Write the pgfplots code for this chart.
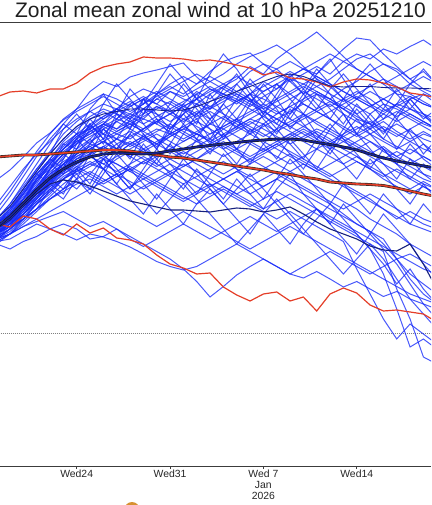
\documentclass[border=0pt]{standalone}
\usepackage{pgfplots}
\pgfplotsset{compat=1.18}
\usepackage{fontspec}
\setmainfont{Liberation Sans}
\definecolor{ensblue}{RGB}{22,42,250}
\definecolor{clred}{RGB}{228,62,40}
\definecolor{navy}{RGB}{22,32,125}
\definecolor{axgray}{RGB}{60,60,60}
\definecolor{orng}{RGB}{215,145,50}
\newcommand{\mem}[1]{\addplot[ens] coordinates {#1};}
\begin{document}
\begin{tikzpicture}
\begin{axis}[
 scale only axis, width=431pt, height=443.3pt,
 xmin=0.25, xmax=32.57, ymin=-26.4, ymax=62.26,
 axis x line=box, axis y line=none,
 ytick=\empty,
 xtick={6,13,20,27},
 xticklabels={Wed24,Wed31,{Wed 7\\Jan\\2026},Wed14},
 xtick pos=bottom, tick align=outside, major tick length=3pt,
 xticklabel style={align=center, font=\fontsize{10.4}{10.8}\selectfont, text=black!85, inner sep=1pt},
 axis line style={draw=axgray, line width=0.9pt},
 every tick/.style={axgray, line width=0.7pt},
 ens/.style={ensblue, opacity=0.78, line width=1.0pt},
 no markers, clip=true,
]
\addplot[gray, densely dotted, line width=1pt] coordinates {(0,0)(34,0)};
% ensemble members (day index 0 = 18 Dec)
\mem{(0,20.5)(1,23)(2,27)(3,31)(4,35)(5,38.5)(6,41)(7,43)(8,44.5)(9,43)(10,45.5)(11,47)(12,46)(13,48.5)(14,47.5)(15,49)(16,50.5)(17,52)(18,54)(19,55.5)(20,56.5)(21,57.8)(22,56)(23,53.5)(24,51)(25,49.5)(26,47)(27,45.5)(28,44)(29,46)(30,45)(31,43.5)(32,42)(33,41)}
\mem{(0,22)(1,24.5)(2,28.5)(3,32)(4,34.5)(5,37)(6,39.5)(7,41.5)(8,40)(9,42.5)(10,44)(11,43)(12,45.5)(13,44.5)(14,46)(15,48.5)(16,47)(17,49.5)(18,51)(19,53.5)(20,52)(21,55)(22,57)(23,58.5)(24,60.4)(25,58)(26,55.5)(27,53)(28,51.5)(29,50)(30,48)(31,47.5)(32,46)(33,45)}
\mem{(0,21)(1,23)(2,26)(3,29.5)(4,33)(5,36)(6,38)(7,40.5)(8,42)(9,41)(10,43.5)(11,45)(12,44)(13,42.5)(14,44)(15,46)(16,45)(17,47.5)(18,46.5)(19,48)(20,50.5)(21,49)(22,51.5)(23,53)(24,52)(25,54.5)(26,57)(27,59.2)(28,58.8)(29,56)(30,53.5)(31,51)(32,52.5)(33,50)}
\mem{(0,24)(1,27.5)(2,31.5)(3,35.5)(4,39)(5,42)(6,45)(7,48.5)(8,50.5)(9,49.5)(10,51.4)(11,52.2)(12,52.8)(13,53.5)(14,54.2)(15,51.4)(16,49)(17,47.5)(18,46)(19,48)(20,47)(21,45.5)(22,44)(23,46.5)(24,48)(25,47)(26,45)(27,43)(28,42)(29,44)(30,46)(31,45)(32,43.5)(33,42)}
\mem{(0,23)(1,26)(2,29.5)(3,33)(4,36.5)(5,40)(6,42.5)(7,44.5)(8,46)(9,45)(10,47.5)(11,49)(12,48)(13,50)(14,51.5)(15,50)(16,52.5)(17,54.5)(18,55.5)(19,56.2)(20,54)(21,52)(22,50.5)(23,52)(24,53.5)(25,52)(26,54.5)(27,56)(28,55)(29,57)(30,56)(31,57.5)(32,58.8)(33,57)}
\mem{(0,21)(1,23)(2,25.5)(3,29)(4,32)(5,35.5)(6,38.5)(7,40)(8,42)(9,44)(10,43)(11,45)(12,47)(13,46)(14,44.5)(15,47)(16,49)(17,48)(18,50)(19,52.5)(20,54)(21,53)(22,50.5)(23,48)(24,49.5)(25,51)(26,53)(27,55)(28,56)(29,54)(30,52.5)(31,50)(32,48.5)(33,47)}
\mem{(0,19.5)(1,21.5)(2,25)(3,28.5)(4,31.5)(5,34)(6,37)(7,39)(8,41.5)(9,43)(10,42)(11,40.5)(12,42.5)(13,44)(14,45.5)(15,44)(16,46.5)(17,48)(18,47)(19,45.5)(20,47.5)(21,49)(22,51)(23,50)(24,48.5)(25,47)(26,49)(27,50.5)(28,52.5)(29,54)(30,53)(31,51)(32,49)(33,48)}
\mem{(0,22.5)(1,25)(2,28)(3,31.5)(4,34.5)(5,37.5)(6,40)(7,41)(8,43)(9,45)(10,46.5)(11,45)(12,47)(13,48.5)(14,47)(15,46)(16,48)(17,49.5)(18,48)(19,46.5)(20,48.5)(21,50)(22,48)(23,46)(24,44.5)(25,43)(26,41)(27,39.5)(28,41)(29,39)(30,37.5)(31,36)(32,38)(33,36)}
\mem{(0,20)(1,22)(2,25)(3,28)(4,30.5)(5,33)(6,35.5)(7,37)(8,38.5)(9,40)(10,39)(11,41)(12,42.5)(13,41)(14,43)(15,44.5)(16,43)(17,45)(18,46.5)(19,45)(20,43.5)(21,45.5)(22,47)(23,48.5)(24,47)(25,45.5)(26,47)(27,48.5)(28,47)(29,45)(30,43.5)(31,45)(32,44)(33,43)}
\mem{(0,21.5)(1,23.5)(2,26.5)(3,29.5)(4,32.5)(5,34.5)(6,36)(7,38)(8,37)(9,39)(10,40.5)(11,39)(12,37.5)(13,39.5)(14,41)(15,42.5)(16,41)(17,39.5)(18,41.5)(19,43)(20,44.5)(21,43)(22,41.5)(23,43)(24,44.5)(25,46)(26,44)(27,42.5)(28,41)(29,42.5)(30,40.5)(31,39)(32,40.5)(33,39)}
\mem{(0,19)(1,21)(2,24)(3,27)(4,30)(5,32.5)(6,34.5)(7,36)(8,37.5)(9,36)(10,38)(11,39.5)(12,41)(13,40)(14,38.5)(15,40)(16,42)(17,43.5)(18,42)(19,40.5)(20,42)(21,44)(22,45.5)(23,44)(24,42)(25,40.5)(26,39)(27,37.5)(28,36)(29,37.5)(30,35.5)(31,34)(32,35.5)(33,34)}
\mem{(0,22)(1,24)(2,27)(3,30.5)(4,33.5)(5,36)(6,38)(7,39.5)(8,41)(9,42.5)(10,41)(11,39.5)(12,38)(13,40)(14,41.5)(15,43)(16,44.5)(17,43)(18,41.5)(19,40)(20,41.5)(21,43)(22,41.5)(23,40)(24,38.5)(25,37)(26,38.5)(27,40)(28,38.5)(29,36.5)(30,35)(31,33.5)(32,32)(33,31)}
\mem{(0,20.5)(1,22.5)(2,25.5)(3,28.5)(4,31)(5,33)(6,35)(7,36.5)(8,35)(9,37)(10,38.5)(11,37)(12,35.5)(13,37)(14,38.5)(15,40)(16,39)(17,41)(18,42.5)(19,41)(20,39.5)(21,41)(22,42.5)(23,44)(24,42.5)(25,41)(26,39.5)(27,38)(28,36.5)(29,35)(30,36.5)(31,35)(32,33.5)(33,32)}
\mem{(0,18.5)(1,20)(2,22.5)(3,25)(4,27.5)(5,30)(6,32)(7,33.5)(8,35)(9,34)(10,32.5)(11,34.5)(12,36)(13,35)(14,33.5)(15,35)(16,37)(17,38.5)(18,37)(19,35.5)(20,37)(21,38.5)(22,40)(23,38.5)(24,37)(25,35.5)(26,34)(27,35.5)(28,33.5)(29,32)(30,30.5)(31,29)(32,30.5)(33,29)}
\mem{(0,21)(1,23)(2,26)(3,29)(4,32)(5,34)(6,36.5)(7,38.5)(8,40)(9,39)(10,37.5)(11,39)(12,40.5)(13,42)(14,40.5)(15,39)(16,37.5)(17,39)(18,40.5)(19,42)(20,43.5)(21,42)(22,40.5)(23,39)(24,40.5)(25,39)(26,37)(27,35.5)(28,34)(29,35.5)(30,34)(31,32.5)(32,31)(33,30)}
\mem{(0,20)(1,22)(2,24.5)(3,27.5)(4,30.5)(5,33)(6,35)(7,36)(8,37.5)(9,39)(10,38)(11,36.5)(12,38)(13,39.5)(14,41)(15,40)(16,38.5)(17,40)(18,41.5)(19,43)(20,42)(21,40.5)(22,42)(23,43.5)(24,45)(25,46.5)(26,45)(27,47)(28,48.5)(29,47)(30,45.5)(31,47)(32,48)(33,47)}
\mem{(0,22)(1,24.5)(2,28)(3,31)(4,34)(5,36.5)(6,38.5)(7,40)(8,41.5)(9,40)(10,41.5)(11,43)(12,42)(13,40.5)(14,39)(15,40.5)(16,42)(17,41)(18,39.5)(19,38)(20,36.5)(21,38)(22,36.5)(23,35)(24,33.5)(25,32)(26,30)(27,28.5)(28,27)(29,25)(30,23.5)(31,22)(32,21)(33,20)}
\mem{(0,19.5)(1,21)(2,23.5)(3,26)(4,28.5)(5,31)(6,33)(7,34.5)(8,33)(9,35)(10,36.5)(11,35)(12,33.5)(13,35)(14,36.5)(15,35)(16,33.5)(17,32)(18,33.5)(19,35)(20,33.5)(21,32)(22,30.5)(23,29)(24,27.5)(25,26)(26,24)(27,22)(28,20.5)(29,18)(30,15)(31,12)(32,10)(33,8)}
\mem{(0,21)(1,22.5)(2,25)(3,27.5)(4,29.5)(5,31)(6,32.5)(7,34)(8,33)(9,31.5)(10,33)(11,34.5)(12,33)(13,31.5)(14,30)(15,31.5)(16,33)(17,34.5)(18,33)(19,31.5)(20,33)(21,34.5)(22,36)(23,34.5)(24,33)(25,31.5)(26,33)(27,34.5)(28,33)(29,31)(30,29.5)(31,28)(32,29.5)(33,28)}
\mem{(0,20)(1,21.5)(2,23)(3,25)(4,27)(5,28.5)(6,30)(7,31)(8,29.5)(9,28)(10,29.5)(11,31)(12,29.5)(13,28)(14,26.5)(15,28)(16,29.5)(17,31)(18,32.5)(19,31)(20,29.5)(21,31)(22,32.5)(23,34)(24,32.5)(25,31)(26,29.5)(27,28)(28,26.5)(29,25)(30,23)(31,24.5)(32,23)(33,22)}
\mem{(0,18)(1,17)(2,18.5)(3,19.5)(4,21)(5,22)(6,21)(7,19)(8,19.5)(9,21)(10,19)(11,17.5)(12,19)(13,20.5)(14,22)(15,20.5)(16,19)(17,20.5)(18,22)(19,23.5)(20,22)(21,20.5)(22,22)(23,23.5)(24,25)(25,23.5)(26,22)(27,20.5)(28,19)(29,17.5)(30,16)(31,14.5)(32,13)(33,12)}
\mem{(0,19)(1,20)(2,21.5)(3,22.5)(4,23.5)(5,24.5)(6,23)(7,21.5)(8,22.5)(9,21)(10,19.5)(11,18)(12,16.5)(13,15)(14,13)(15,10.5)(16,7.4)(17,9.5)(18,11.8)(19,13.5)(20,15)(21,13.5)(22,12)(23,13.5)(24,15)(25,16.5)(26,15)(27,13.5)(28,12)(29,13.5)(30,15)(31,16)(32,14.5)(33,13)}
\mem{(0,18.5)(1,19)(2,20.5)(3,22)(4,21)(5,20)(6,18.8)(7,20)(8,19.4)(9,18.5)(10,17.4)(11,16)(12,14.5)(13,13.5)(14,12.8)(15,13.5)(16,15)(17,16.5)(18,18)(19,16.5)(20,15)(21,13.5)(22,12)(23,11.2)(24,12.5)(25,11)(26,9.4)(27,10.5)(28,9)(29,7.5)(30,8.5)(31,7)(32,6)(33,5)}
\mem{(0,21)(1,23)(2,25.5)(3,28)(4,30.5)(5,32.5)(6,34)(7,35.5)(8,34)(9,32.5)(10,34)(11,35.5)(12,34)(13,32.5)(14,31)(15,29.5)(16,28)(17,29.5)(18,28)(19,26.5)(20,25)(21,26.5)(22,28)(23,26.5)(24,25)(25,23)(26,21.5)(27,20)(28,17)(29,12)(30,5)(31,-2.6)(32,-1)(33,-3)}
\mem{(0,20)(1,21.5)(2,24)(3,26.5)(4,29)(5,31.5)(6,33)(7,31.5)(8,30)(9,31.5)(10,33)(11,31.5)(12,30)(13,28.5)(14,27)(15,28.5)(16,30)(17,28.5)(18,27)(19,25.5)(20,27)(21,28.5)(22,27)(23,25.5)(24,24)(25,22.5)(26,21)(27,19.5)(28,18)(29,16.5)(30,9)(31,3)(32,-4.6)(33,-6)}
\mem{(0,22)(1,24)(2,27)(3,29.5)(4,32)(5,34)(6,35.5)(7,37)(8,38.5)(9,37)(10,35.5)(11,34)(12,35.5)(13,37)(14,35.5)(15,34)(16,32.5)(17,31)(18,29.5)(19,28)(20,29.5)(21,31)(22,29.5)(23,28)(24,26.5)(25,25)(26,23.5)(27,22)(28,20.5)(29,19)(30,15)(31,11)(32,8)(33,6)}
\mem{(0,23)(1,25.5)(2,29)(3,32.5)(4,36)(5,39)(6,41.5)(7,43.5)(8,45)(9,44)(10,42.5)(11,41)(12,42.5)(13,44)(14,45.5)(15,47)(16,45.5)(17,44)(18,42.5)(19,44)(20,45.5)(21,47)(22,48.5)(23,50)(24,51.5)(25,50)(26,48.5)(27,47)(28,45.5)(29,44)(30,42.5)(31,44)(32,42.5)(33,41)}
\mem{(0,20)(1,22.5)(2,26)(3,29.5)(4,33)(5,36)(6,39)(7,41.5)(8,43.5)(9,45)(10,44)(11,46)(12,48)(13,49.5)(14,48)(15,50)(16,51.5)(17,50)(18,48.5)(19,47)(20,45.5)(21,44)(22,45.5)(23,47)(24,48.5)(25,47)(26,45.5)(27,44)(28,45.5)(29,47)(30,48.5)(31,50)(32,51.5)(33,50)}
\mem{(0,21.5)(1,23.5)(2,26)(3,28.5)(4,31)(5,33.5)(6,36)(7,37.5)(8,36)(9,38)(10,39.5)(11,41)(12,43)(13,41.5)(14,40)(15,38.5)(16,37)(17,35.5)(18,37)(19,38.5)(20,37)(21,35.5)(22,34)(23,35.5)(24,37)(25,38.5)(26,40)(27,41.5)(28,40)(29,38.5)(30,37)(31,38.5)(32,40)(33,39)}
\mem{(0,19)(1,20.5)(2,23)(3,26)(4,28.5)(5,31)(6,33.5)(7,35.5)(8,37.5)(9,36)(10,38)(11,39.5)(12,38)(13,36.5)(14,35)(15,36.5)(16,38)(17,39.5)(18,41)(19,42.5)(20,41)(21,39.5)(22,38)(23,39.5)(24,41)(25,40)(26,38.5)(27,37)(28,38.5)(29,37)(30,35.5)(31,37)(32,35.5)(33,34)}
\mem{(0,22)(1,24)(2,27.5)(3,31)(4,34)(5,37)(6,39)(7,40.5)(8,42)(9,40.5)(10,42)(11,43.5)(12,45)(13,46.5)(14,45)(15,43.5)(16,45)(17,46.5)(18,48)(19,46.5)(20,45)(21,46.5)(22,48)(23,49.5)(24,48)(25,46.5)(26,45)(27,43.5)(28,42)(29,40.5)(30,42)(31,40.5)(32,39)(33,38)}
\mem{(0,20.5)(1,22)(2,24)(3,26.5)(4,29)(5,31)(6,32.5)(7,34)(8,35.5)(9,34)(10,32.5)(11,31)(12,32.5)(13,34)(14,32.5)(15,31)(16,29.5)(17,31)(18,32.5)(19,34)(20,35.5)(21,34)(22,32.5)(23,31)(24,29.5)(25,28)(26,26.5)(27,25)(28,23)(29,21.5)(30,20)(31,18)(32,16.5)(33,15)}
\mem{(0,25)(1,28.5)(2,32.5)(3,36.5)(4,40)(5,43)(6,45)(7,46.5)(8,48)(9,47)(10,45.5)(11,47)(12,48.5)(13,47)(14,45.5)(15,47)(16,48.5)(17,50)(18,51.5)(19,50)(20,48.5)(21,50)(22,51.5)(23,53)(24,54.5)(25,56)(26,54.5)(27,53)(28,51.5)(29,50)(30,51.5)(31,53)(32,54.5)(33,53)}
\mem{(0,21)(1,23)(2,25.5)(3,28.5)(4,31.5)(5,34)(6,36)(7,37.5)(8,39)(9,40.5)(10,42)(11,40.5)(12,39)(13,37.5)(14,36)(15,37.5)(16,39)(17,37.5)(18,36)(19,34.5)(20,36)(21,37.5)(22,39)(23,40.5)(24,39)(25,37.5)(26,36)(27,34.5)(28,33)(29,31.5)(30,33)(31,31.5)(32,30)(33,29)}
\mem{(0,18.5)(1,20)(2,22)(3,24.5)(4,27)(5,29)(6,31)(7,32.5)(8,31)(9,29.5)(10,28)(11,29.5)(12,31)(13,32.5)(14,34)(15,32.5)(16,31)(17,29.5)(18,28)(19,29.5)(20,31)(21,32.5)(22,31)(23,29.5)(24,28)(25,26.5)(26,25)(27,26.5)(28,28)(29,26.5)(30,25)(31,23.5)(32,22)(33,21)}
\mem{(0,26)(1,29.5)(2,33)(3,36)(4,38.5)(5,41)(6,43)(7,44.5)(8,43)(9,44.5)(10,46)(11,47.5)(12,46)(13,44.5)(14,43)(15,41.5)(16,40)(17,41.5)(18,43)(19,41.5)(20,40)(21,38.5)(22,40)(23,41.5)(24,40)(25,38.5)(26,37)(27,38.5)(28,40)(29,41.5)(30,40)(31,38.5)(32,37)(33,36)}
\mem{(0,30.8)(1,32.8)(2,35.4)(3,38.2)(4,40.2)(5,42.8)(6,44.5)(7,46)(8,47.5)(9,46)(10,44.5)(11,46)(12,47.5)(13,49)(14,50.5)(15,52)(16,50.5)(17,49)(18,47.5)(19,46)(20,44.5)(21,43)(22,44.5)(23,46)(24,44.5)(25,43)(26,41.5)(27,40)(28,41.5)(29,43)(30,44.5)(31,43)(32,41.5)(33,40)}
\mem{(0,20)(1,21.5)(2,24)(3,27)(4,29.5)(5,32)(6,34)(7,35.5)(8,34)(9,35.5)(10,37)(11,38.5)(12,40)(13,38.5)(14,37)(15,38.5)(16,40)(17,41.5)(18,43)(19,44.5)(20,46)(21,44.5)(22,43)(23,41.5)(24,43)(25,44.5)(26,46)(27,47.5)(28,46)(29,44.5)(30,46)(31,47.5)(32,46)(33,45)}
\mem{(0,21.5)(1,23)(2,25.5)(3,28)(4,30)(5,32)(6,33.5)(7,32)(8,30.5)(9,32)(10,33.5)(11,32)(12,30.5)(13,29)(14,27.5)(15,26)(16,27.5)(17,29)(18,27.5)(19,26)(20,24.5)(21,23)(22,24.5)(23,23)(24,21.5)(25,20)(26,18.5)(27,13)(28,8)(29,3)(30,-1)(31,2)(32,0)(33,-2)}
\mem{(0,22.5)(1,25)(2,28.5)(3,32)(4,35)(5,38)(6,40)(7,42)(8,43.5)(9,45)(10,43.5)(11,42)(12,43.5)(13,45)(14,46.5)(15,48)(16,49.5)(17,48)(18,46.5)(19,48)(20,49.5)(21,51)(22,52.5)(23,51)(24,49.5)(25,48)(26,46.5)(27,48)(28,49.5)(29,51)(30,49.5)(31,48)(32,46.5)(33,45)}
\mem{(0,20.5)(1,22)(2,24.5)(3,27.5)(4,30.5)(5,33)(6,35)(7,37)(8,38.5)(9,37)(10,35.5)(11,37)(12,38.5)(13,40)(14,41.5)(15,40)(16,38.5)(17,37)(18,38.5)(19,40)(20,38.5)(21,37)(22,35.5)(23,34)(24,32.5)(25,34)(26,35.5)(27,37)(28,35.5)(29,34)(30,32.5)(31,31)(32,29.5)(33,28)}
\mem{(0,19)(1,20)(2,21.5)(3,23)(4,24.5)(5,26)(6,27.5)(7,29)(8,30.5)(9,32)(10,30.5)(11,29)(12,30.5)(13,32)(14,33.5)(15,35)(16,36.5)(17,38)(18,36.5)(19,35)(20,36.5)(21,38)(22,39.5)(23,41)(24,39.5)(25,38)(26,39.5)(27,41)(28,42.5)(29,41)(30,39.5)(31,41)(32,42.5)(33,41)}
\mem{(0,19.5)(1,21)(2,23)(3,25)(4,27)(5,29)(6,30.5)(7,29)(8,27.5)(9,26)(10,24.5)(11,23)(12,21.5)(13,23)(14,24.5)(15,23)(16,21.5)(17,20)(18,18.5)(19,17)(20,18.5)(21,20)(22,21.5)(23,20)(24,18.5)(25,17)(26,15.5)(27,14)(28,12.5)(29,11)(30,9.5)(31,8)(32,7)(33,6)}
\mem{(0,21)(1,23.5)(2,27)(3,30.5)(4,34)(5,37)(6,39.5)(7,41)(8,42.5)(9,41)(10,42.5)(11,44)(12,45.5)(13,44)(14,42.5)(15,44)(16,45.5)(17,47)(18,48.5)(19,50)(20,51.5)(21,53)(22,54.5)(23,53)(24,51.5)(25,50)(26,48.5)(27,47)(28,45.5)(29,47)(30,45.5)(31,44)(32,42.5)(33,41)}
\mem{(0,21)(1,24)(2,26)(3,31)(4,33)(5,38)(6,37)(7,42)(8,39)(9,44)(10,41)(11,47)(12,43)(13,40)(14,45)(15,42)(16,48)(17,44)(18,41)(19,46)(20,50)(21,47)(22,43)(23,47)(24,51)(25,48)(26,44)(27,40)(28,44)(29,41)(30,37)(31,41)(32,38)(33,35)}
\mem{(0,20)(1,22)(2,26)(3,28)(4,33)(5,35)(6,39)(7,36)(8,41)(9,38)(10,35)(11,40)(12,37)(13,42)(14,46)(15,43)(16,39)(17,43)(18,47)(19,51)(20,48)(21,45)(22,41)(23,44)(24,40)(25,37)(26,41)(27,45)(28,42)(29,39)(30,43)(31,40)(32,36)(33,39)}
\mem{(0,22)(1,25)(2,29)(3,33)(4,36)(5,41)(6,44)(7,41)(8,46)(9,50)(10,47)(11,44)(12,48)(13,52)(14,49)(15,45)(16,42)(17,46)(18,50)(19,47)(20,43)(21,40)(22,44)(23,48)(24,52)(25,55)(26,51)(27,47)(28,50)(29,46)(30,43)(31,47)(32,44)(33,41)}
\mem{(0,19)(1,21)(2,24)(3,26)(4,30)(5,28)(6,33)(7,30)(8,35)(9,32)(10,29)(11,33)(12,37)(13,34)(14,31)(15,28)(16,32)(17,36)(18,33)(19,30)(20,27)(21,31)(22,35)(23,32)(24,29)(25,26)(26,30)(27,27)(28,24)(29,28)(30,25)(31,22)(32,26)(33,23)}
\mem{(0,21)(1,23)(2,27)(3,30)(4,34)(5,32)(6,37)(7,41)(8,38)(9,43)(10,46)(11,42)(12,39)(13,36)(14,40)(15,44)(16,41)(17,37)(18,34)(19,38)(20,42)(21,39)(22,36)(23,33)(24,37)(25,41)(26,44)(27,40)(28,37)(29,34)(30,31)(31,35)(32,32)(33,30)}
\mem{(0,23)(1,26)(2,30)(3,34)(4,38)(5,42)(6,40)(7,45)(8,48)(9,44)(10,49)(11,46)(12,50)(13,54)(14,51)(15,47)(16,52)(17,56)(18,53)(19,49)(20,46)(21,50)(22,47)(23,44)(24,48)(25,45)(26,42)(27,46)(28,43)(29,40)(30,44)(31,47)(32,44)(33,42)}
\mem{(0,20)(1,22)(2,25)(3,27)(4,31)(5,34)(6,31)(7,36)(8,33)(9,30)(10,34)(11,38)(12,35)(13,32)(14,29)(15,33)(16,30)(17,27)(18,31)(19,28)(20,25)(21,29)(22,32)(23,28)(24,25)(25,22)(26,26)(27,23)(28,20)(29,24)(30,21)(31,18)(32,14)(33,11)}
\mem{(0,21)(1,24)(2,28)(3,32)(4,35)(5,33)(6,38)(7,42)(8,39)(9,36)(10,40)(11,44)(12,48)(13,45)(14,42)(15,46)(16,43)(17,39)(18,43)(19,47)(20,44)(21,48)(22,52)(23,49)(24,46)(25,43)(26,47)(27,44)(28,41)(29,45)(30,49)(31,46)(32,43)(33,45)}
\mem{(0,18)(1,20)(2,23)(3,25)(4,29)(5,27)(6,31)(7,28)(8,32)(9,36)(10,33)(11,30)(12,27)(13,31)(14,35)(15,39)(16,36)(17,40)(18,37)(19,34)(20,38)(21,41)(22,45)(23,42)(24,39)(25,36)(26,40)(27,43)(28,40)(29,37)(30,34)(31,38)(32,35)(33,33)}
\mem{(0,22)(1,25)(2,28)(3,32)(4,30)(5,35)(6,39)(7,43)(8,40)(9,37)(10,41)(11,45)(12,42)(13,46)(14,50)(15,47)(16,44)(17,40)(18,37)(19,41)(20,38)(21,35)(22,39)(23,36)(24,33)(25,37)(26,34)(27,31)(28,35)(29,32)(30,29)(31,26)(32,30)(33,27)}
\mem{(0,21)(1,23)(2,26)(3,29)(4,31)(5,34)(6,32)(7,29)(8,33)(9,30)(10,27)(11,24)(12,28)(13,25)(14,22)(15,26)(16,29)(17,26)(18,23)(19,20)(20,24)(21,21)(22,18)(23,22)(24,25)(25,22)(26,19)(27,16)(28,20)(29,17)(30,14)(31,10)(32,6)(33,3)}
\mem{(0,20)(1,22)(2,24)(3,27)(4,30)(5,33)(6,36)(7,39)(8,36)(9,33)(10,30)(11,27)(12,24)(13,27)(14,30)(15,27)(16,24)(17,21)(18,18)(19,21)(20,24)(21,27)(22,24)(23,21)(24,18)(25,15)(26,12)(27,15)(28,18)(29,15)(30,11)(31,7)(32,4)(33,1)}
\mem{(0,22)(1,24)(2,27)(3,31)(4,34)(5,37)(6,40)(7,38)(8,42)(9,45)(10,43)(11,47)(12,44)(13,41)(14,44)(15,48)(16,45)(17,49)(18,52)(19,48)(20,45)(21,42)(22,46)(23,49)(24,53)(25,50)(26,47)(27,51)(28,54)(29,51)(30,48)(31,45)(32,48)(33,46)}
\mem{(0,20)(1,23)(2,26)(3,29)(4,33)(5,36)(6,34)(7,38)(8,41)(9,39)(10,43)(11,40)(12,37)(13,41)(14,44)(15,41)(16,38)(17,42)(18,45)(19,48)(20,44)(21,41)(22,38)(23,35)(24,39)(25,42)(26,39)(27,36)(28,33)(29,37)(30,34)(31,31)(32,34)(33,32)}
\mem{(0,21)(1,23)(2,25)(3,28)(4,31)(5,29)(6,33)(7,36)(8,33)(9,37)(10,40)(11,37)(12,34)(13,38)(14,42)(15,39)(16,43)(17,46)(18,43)(19,40)(20,44)(21,47)(22,51)(23,48)(24,45)(25,49)(26,52)(27,49)(28,46)(29,43)(30,46)(31,50)(32,53)(33,50)}
\mem{(0,19)(1,21)(2,23)(3,26)(4,28)(5,31)(6,29)(7,32)(8,35)(9,32)(10,29)(11,32)(12,35)(13,38)(14,35)(15,32)(16,29)(17,26)(18,29)(19,32)(20,29)(21,26)(22,23)(23,20)(24,23)(25,26)(26,23)(27,20)(28,17)(29,14)(30,10)(31,13)(32,9)(33,6)}
% climatological extremes
\addplot[clred, line width=1.2pt] coordinates {(0,47.4)(1,48.4)(2,48.6)(3,48.2)(4,49)(5,49)(6,50.2)(7,52.2)(8,53.4)(9,54)(10,54.4)(11,55.4)(12,55.2)(13,55.2)(14,55)(15,54.6)(16,54.8)(17,54.4)(18,53.8)(19,53.2)(20,51.8)(21,52.4)(22,51.2)(23,51)(24,50.4)(25,49.4)(26,50.4)(27,51)(28,50.8)(29,50.2)(30,49.4)(31,48.2)(32,47.8)(33,47.2)};
\addplot[clred, line width=1.2pt] coordinates {(0,22)(1,21.4)(2,23.6)(3,23)(4,21)(5,19.8)(6,22)(7,20.2)(8,21.2)(9,19.2)(10,18.8)(11,18)(12,15.8)(13,14)(14,13.2)(15,12)(16,12.2)(17,9.4)(18,7.8)(19,6.6)(20,8)(21,8.4)(22,6.6)(23,7.4)(24,4.6)(25,8)(26,9.2)(27,8.2)(28,5.8)(29,4.6)(30,4.8)(31,4.4)(32,4)(33,2.4)};
% control and second deterministic
\addplot[navy, line width=1.1pt] coordinates {(0,21)(1,22.8)(2,25.5)(3,28)(4,30)(5,30.8)(6,30.4)(7,29.6)(8,28.6)(9,27.6)(10,26.6)(11,26)(12,25.4)(13,24.8)(14,24.8)(15,24.6)(16,24.4)(17,24.8)(18,25.2)(19,25)(20,24.4)(21,24.8)(22,25.4)(23,24)(24,22.4)(25,21)(26,20)(27,19)(28,17.6)(29,16.8)(30,16.6)(31,18)(32,14)(33,9)};
\addplot[navy!85!ensblue, line width=0.9pt] coordinates {(0,23)(1,25.5)(2,29)(3,32.5)(4,36)(5,39)(6,41.5)(7,43)(8,44)(9,44.5)(10,45)(11,45)(12,44.8)(13,44.6)(14,44.8)(15,45.5)(16,46.5)(17,47.5)(18,48.5)(19,49.5)(20,50.5)(21,51.5)(22,52)(23,51.5)(24,50.5)(25,49.6)(26,49.4)(27,49.5)(28,49.5)(29,49.3)(30,49.2)(31,49.2)(32,49.1)(33,49)};
% climatological mean (outlined)
\addplot[black!85, line width=2.8pt] coordinates {(0,35.4)(1,35.6)(2,35.8)(3,35.8)(4,36)(5,36.2)(6,36.4)(7,36.6)(8,36.8)(9,36.8)(10,36.6)(11,36.2)(12,35.8)(13,35.4)(14,35.2)(15,34.8)(16,34.4)(17,34)(18,33.6)(19,33.2)(20,32.8)(21,32.3)(22,31.9)(23,31.4)(24,31)(25,30.4)(26,30.2)(27,30)(28,29.9)(29,29.7)(30,29.2)(31,28.6)(32,28)(33,27.5)};
\addplot[clred, line width=1.6pt] coordinates {(0,35.4)(1,35.6)(2,35.8)(3,35.8)(4,36)(5,36.2)(6,36.4)(7,36.6)(8,36.8)(9,36.8)(10,36.6)(11,36.2)(12,35.8)(13,35.4)(14,35.2)(15,34.8)(16,34.4)(17,34)(18,33.6)(19,33.2)(20,32.8)(21,32.3)(22,31.9)(23,31.4)(24,31)(25,30.4)(26,30.2)(27,30)(28,29.9)(29,29.7)(30,29.2)(31,28.6)(32,28)(33,27.5)};
% ensemble mean (outlined)
\addplot[black!90, line width=2.8pt] coordinates {(0,21.4)(1,23.5)(2,26.2)(3,28.8)(4,31.2)(5,33)(6,34.4)(7,35.4)(8,36)(9,36.2)(10,36.1)(11,36)(12,36.2)(13,36.6)(14,37)(15,37.4)(16,37.7)(17,38)(18,38.3)(19,38.6)(20,38.8)(21,39)(22,39)(23,38.8)(24,38.3)(25,37.9)(26,37.4)(27,36.8)(28,36)(29,35.2)(30,34.6)(31,34.1)(32,33.6)(33,33.2)};
\addplot[navy!80!ensblue, line width=1.5pt] coordinates {(0,21.4)(1,23.5)(2,26.2)(3,28.8)(4,31.2)(5,33)(6,34.4)(7,35.4)(8,36)(9,36.2)(10,36.1)(11,36)(12,36.2)(13,36.6)(14,37)(15,37.4)(16,37.7)(17,38)(18,38.3)(19,38.6)(20,38.8)(21,39)(22,39)(23,38.8)(24,38.3)(25,37.9)(26,37.4)(27,36.8)(28,36)(29,35.2)(30,34.6)(31,34.1)(32,33.6)(33,33.2)};
\end{axis}
\node[anchor=base, font=\fontsize{21}{24}\selectfont, text=black!88] at ([xshift=5pt,yshift=5.2pt]current axis.north) {Zonal mean zonal wind at 10 hPa 20251210};
\fill[orng] ([xshift=132pt,yshift=-43.5pt]current axis.south west) circle (7.5pt);
\pgfresetboundingbox
\path[use as bounding box] ([yshift=-39pt]current axis.south west) rectangle ([yshift=22.7pt]current axis.north east);
\end{tikzpicture}
\end{document}
